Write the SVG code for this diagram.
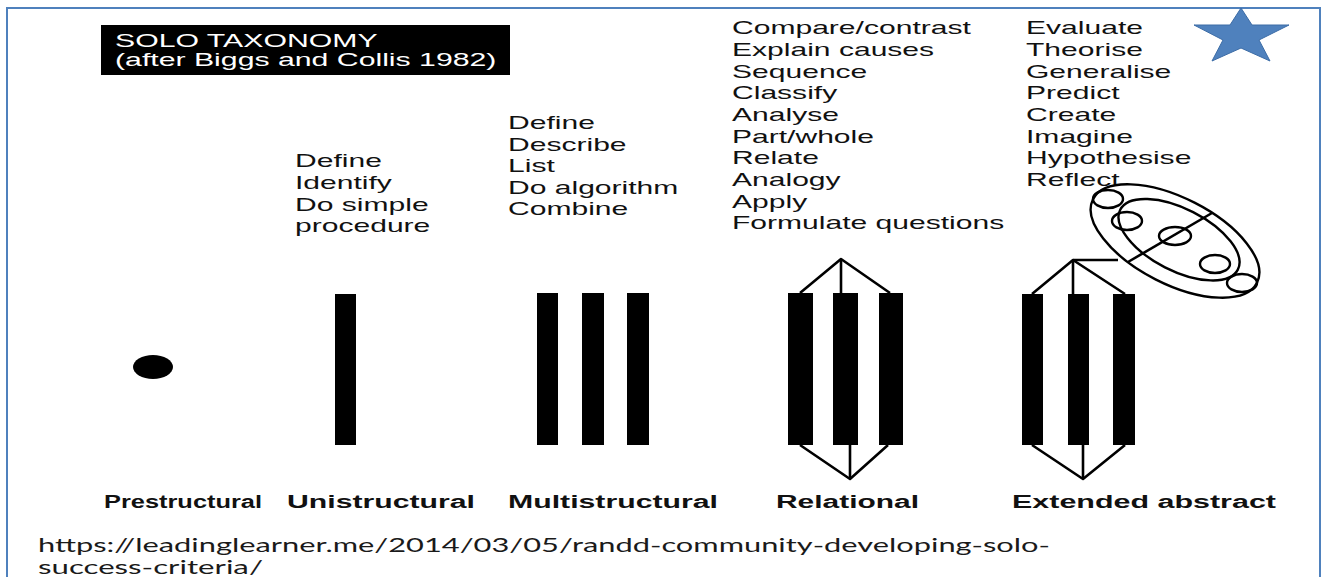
<svg xmlns="http://www.w3.org/2000/svg" width="1325" height="577" viewBox="0 0 1325 577">
  <style>
    .body { font-family: "Liberation Sans", Arial, sans-serif; font-size: 18px; fill: #111; }
    .title { font-family: "Liberation Sans", Arial, sans-serif; font-size: 18px; fill: #fff; }
    .label { font-family: "Liberation Sans", Arial, sans-serif; font-size: 18px; font-weight: bold; fill: #111; }
    .url { font-family: Lato, "Open Sans", sans-serif; font-size: 19px; fill: #1a1a1a; }
    .bar { fill: #000; }
    .wire { fill: none; stroke: #000; stroke-width: 2.6; stroke-linejoin: round; }
    .ring { fill: none; stroke: #000; stroke-width: 2.4; }
  </style>

  <rect x="0" y="0" width="1325" height="577" fill="#fff"/>
  <!-- slide frame -->
  <rect x="7" y="8" width="1313" height="620" fill="none" stroke="#4f81bd" stroke-width="2"/>

  <!-- star in the corner -->
  <g id="star">
    <polygon points="1241,8 1252,25 1289,25 1259,40 1270,61 1241,48 1212,61 1223,40 1194,25 1230,25" fill="#4f81bd" stroke="#3c6ca6" stroke-width="1"/>
  </g>

  <!-- title box -->
  <g id="title">
    <rect x="101" y="25" width="409" height="50" fill="#000"/>
    <g transform="translate(115,0) scale(1.68,1)">
      <text class="title" x="0" y="47">SOLO TAXONOMY</text>
      <text class="title" x="0" y="66">(after Biggs and Collis 1982)</text>
    </g>
  </g>

  <!-- level 1 -->
  <g id="prestructural">
    <ellipse cx="153" cy="367" rx="20" ry="12" fill="#000"/>
    <text class="label" x="104" y="508" textLength="158" lengthAdjust="spacingAndGlyphs">Prestructural</text>
  </g>

  <!-- level 2 -->
  <g id="unistructural">
    <g transform="translate(295,0) scale(1.67,1)">
      <text class="body" x="0" y="167.5">Define</text>
      <text class="body" x="0" y="189">Identify</text>
      <text class="body" x="0" y="210.7">Do simple</text>
      <text class="body" x="0" y="232.3">procedure</text>
    </g>
    <rect class="bar" x="335" y="294" width="21" height="151"/>
    <text class="label" x="287" y="508" textLength="188" lengthAdjust="spacingAndGlyphs">Unistructural</text>
  </g>

  <!-- level 3 -->
  <g id="multistructural">
    <g transform="translate(508,0) scale(1.67,1)">
      <text class="body" x="0" y="129.5">Define</text>
      <text class="body" x="0" y="151">Describe</text>
      <text class="body" x="0" y="172.5">List</text>
      <text class="body" x="0" y="194">Do algorithm</text>
      <text class="body" x="0" y="215.5">Combine</text>
    </g>
    <rect class="bar" x="537" y="293" width="21" height="152"/>
    <rect class="bar" x="582" y="293" width="22" height="152"/>
    <rect class="bar" x="627" y="293" width="22" height="152"/>
    <text class="label" x="508" y="508" textLength="210" lengthAdjust="spacingAndGlyphs">Multistructural</text>
  </g>

  <!-- level 4 -->
  <g id="relational">
    <g transform="translate(732,0) scale(1.67,1)">
      <text class="body" x="0" y="34.5">Compare/contrast</text>
      <text class="body" x="0" y="56.2">Explain causes</text>
      <text class="body" x="0" y="77.8">Sequence</text>
      <text class="body" x="0" y="99.5">Classify</text>
      <text class="body" x="0" y="121.2">Analyse</text>
      <text class="body" x="0" y="142.8">Part/whole</text>
      <text class="body" x="0" y="164.5">Relate</text>
      <text class="body" x="0" y="186.2">Analogy</text>
      <text class="body" x="0" y="207.8">Apply</text>
      <text class="body" x="0" y="229.5">Formulate questions</text>
    </g>
    <rect class="bar" x="788" y="293" width="25" height="152"/>
    <rect class="bar" x="833" y="293" width="25" height="152"/>
    <rect class="bar" x="879" y="293" width="24" height="152"/>
    <text class="label" x="776" y="508" textLength="143" lengthAdjust="spacingAndGlyphs">Relational</text>
  </g>

  <!-- level 5 -->
  <g id="extended-abstract">
    <g transform="translate(1026,0) scale(1.67,1)">
      <text class="body" x="0" y="34.5">Evaluate</text>
      <text class="body" x="0" y="56.2">Theorise</text>
      <text class="body" x="0" y="77.8">Generalise</text>
      <text class="body" x="0" y="99.5">Predict</text>
      <text class="body" x="0" y="121.2">Create</text>
      <text class="body" x="0" y="142.8">Imagine</text>
      <text class="body" x="0" y="164.5">Hypothesise</text>
      <text class="body" x="0" y="186.2">Reflect</text>
    </g>
    <rect class="bar" x="1022" y="294" width="21" height="151"/>
    <rect class="bar" x="1068" y="294" width="21" height="151"/>
    <rect class="bar" x="1113" y="294" width="22" height="151"/>
    <!-- abstraction beyond the given domain -->
    <g transform="translate(1175,241) rotate(27)">
      <ellipse class="ring" cx="0" cy="0" rx="92" ry="43"/>
      <ellipse class="ring" cx="3" cy="-3" rx="66" ry="31"/>
    </g>
    <line class="wire" x1="1128" y1="262" x2="1212" y2="213"/>
    <ellipse class="ring" cx="1108" cy="199" rx="15" ry="9"/>
    <ellipse class="ring" cx="1127" cy="221" rx="15" ry="9"/>
    <ellipse class="ring" cx="1175" cy="236" rx="16" ry="9"/>
    <ellipse class="ring" cx="1215" cy="264" rx="15" ry="9"/>
    <ellipse class="ring" cx="1242" cy="283" rx="15" ry="9"/>
    <text class="label" x="1012" y="508" textLength="264" lengthAdjust="spacingAndGlyphs">Extended abstract</text>
  </g>

  <!-- links tying the bars together -->
  <g id="connectors">
    <polyline class="wire" points="800,293 841,259 890,293"/>
    <line class="wire" x1="841" y1="259" x2="841" y2="293"/>
    <polyline class="wire" points="800,445 850,479 888,445"/>
    <line class="wire" x1="850" y1="445" x2="850" y2="479"/>
    <polyline class="wire" points="1032,294 1073,260 1125,294"/>
    <line class="wire" x1="1073" y1="260" x2="1073" y2="294"/>
    <line class="wire" x1="1073" y1="260" x2="1118" y2="260"/>
    <polyline class="wire" points="1032,445 1083,479 1125,445"/>
    <line class="wire" x1="1083" y1="445" x2="1083" y2="479"/>
  </g>

  <!-- source -->
  <g id="source">
    <text class="url" x="38" y="552" textLength="1012" lengthAdjust="spacingAndGlyphs">https://leadinglearner.me/2014/03/05/randd-community-developing-solo-</text>
    <text class="url" x="38" y="574" textLength="225" lengthAdjust="spacingAndGlyphs">success-criteria/</text>
  </g>
</svg>
